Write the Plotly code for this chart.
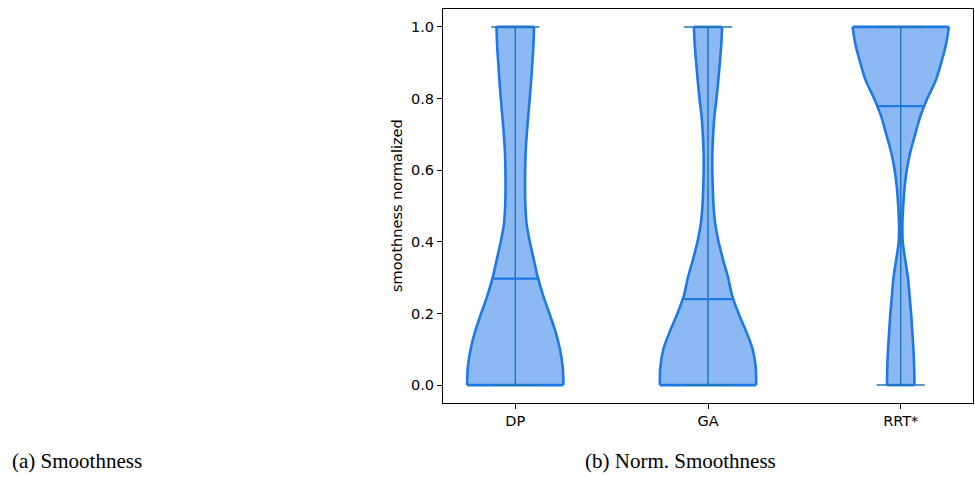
import plotly.graph_objects as go

# ---- data ----
categories = ["DP", "GA", "RRT*"]
levels = [0.00, 0.05, 0.10, 0.15, 0.20, 0.25, 0.30, 0.35, 0.40, 0.45, 0.50,
          0.55, 0.60, 0.65, 0.70, 0.75, 0.80, 0.85, 0.90, 0.95, 1.00]
# relative density (1 = widest point) at each level
density_dp = [1.000, 0.985, 0.927, 0.833, 0.708, 0.579, 0.469, 0.385, 0.302, 0.235, 0.210,
              0.202, 0.205, 0.215, 0.238, 0.268, 0.300, 0.329, 0.354, 0.377, 0.390]
density_ga = [1.000, 0.990, 0.927, 0.792, 0.635, 0.500, 0.417, 0.313, 0.219, 0.150, 0.115,
              0.100, 0.090, 0.092, 0.108, 0.133, 0.177, 0.213, 0.246, 0.275, 0.292]
density_rrt = [0.285, 0.279, 0.263, 0.240, 0.215, 0.183, 0.150, 0.094, 0.042, 0.035, 0.052,
               0.079, 0.125, 0.198, 0.300, 0.406, 0.552, 0.725, 0.840, 0.938, 1.000]
densities = [density_dp, density_ga, density_rrt]
mins = [0.0, 0.0, 0.0]
maxs = [1.0, 1.0, 1.0]
medians = [0.297, 0.240, 0.779]

y_ticks = [0.0, 0.2, 0.4, 0.6, 0.8, 1.0]
y_tick_labels = ["0.0", "0.2", "0.4", "0.6", "0.8", "1.0"]
y_title = "smoothness normalized"
caption_a = "(a) Smoothness"
caption_b = "(b) Norm. Smoothness"

# ---- style ----
FILL = "rgba(26,115,232,0.5)"
EDGE = "#1e78e6"
BAR = "#1f77b4"
HALF_BODY = 0.25   # widths=0.5 -> half width 0.25
HALF_LINE = 0.125  # line ends +/- 0.25*width

fig = go.Figure()
positions = list(range(1, len(categories) + 1))


def add_line(xs, ys, color, width, shape="linear"):
    fig.add_trace(go.Scatter(x=xs, y=ys, mode="lines",
                             line=dict(color=color, width=width, shape=shape, smoothing=0.8),
                             showlegend=False, hoverinfo="skip"))


for pos, dens in zip(positions, densities):
    right = [pos + HALF_BODY * d for d in dens]
    left = [pos - HALF_BODY * d for d in dens]
    # filled body (no outline)
    xs = right + left[::-1] + [right[0]]
    ys = list(levels) + list(levels)[::-1] + [levels[0]]
    fig.add_trace(go.Scatter(x=xs, y=ys, mode="lines", fill="toself", fillcolor=FILL,
                             line=dict(width=0), hoverinfo="skip", showlegend=False))
    # outline: two smooth sides + flat top/bottom
    add_line(right, levels, EDGE, 2.6, "spline")
    add_line(left, levels, EDGE, 2.6, "spline")
    add_line([left[0], right[0]], [levels[0], levels[0]], EDGE, 2.6)
    add_line([left[-1], right[-1]], [levels[-1], levels[-1]], EDGE, 2.6)

for pos, lo, hi, med in zip(positions, mins, maxs, medians):
    add_line([pos, pos], [lo, hi], BAR, 1.5)
    for v in (lo, hi):
        add_line([pos - HALF_LINE, pos + HALF_LINE], [v, v], BAR, 1.5)
    add_line([pos - HALF_LINE, pos + HALF_LINE], [med, med], EDGE, 2.2)

axis_font = dict(family="DejaVu Sans", size=14.5, color="black")
cap_font = dict(family="Liberation Serif", size=21, color="black")

fig.update_layout(
    width=975, height=477,
    margin=dict(l=443, r=2, t=9, b=74),
    paper_bgcolor="white", plot_bgcolor="white",
    showlegend=False,
    xaxis=dict(
        range=[0.625, 3.375], tickmode="array", tickvals=positions, ticktext=categories,
        showgrid=False, zeroline=False, showline=True, mirror=True,
        linecolor="black", linewidth=1, ticks="outside", ticklen=5, tickwidth=1,
        tickcolor="black", tickfont=axis_font,
    ),
    yaxis=dict(
        range=[-0.05, 1.05], tickmode="array", tickvals=y_ticks, ticktext=y_tick_labels,
        showgrid=False, zeroline=False, showline=True, mirror=True,
        linecolor="black", linewidth=1, ticks="outside", ticklen=5, tickwidth=1,
        tickcolor="black", tickfont=axis_font,
    ),
    annotations=[
        dict(text=y_title, xref="paper", yref="paper", x=-46 / 530, y=0.5,
             textangle=-90, showarrow=False, xanchor="center", yanchor="middle",
             font=axis_font),
        dict(text=caption_a, xref="paper", yref="paper", x=(10 - 443) / 530, y=(403 - 461) / 394,
             showarrow=False, xanchor="left", yanchor="middle", font=cap_font),
        dict(text=caption_b, xref="paper", yref="paper", x=(583 - 443) / 530, y=(403 - 461) / 394,
             showarrow=False, xanchor="left", yanchor="middle", font=cap_font),
    ],
)

fig.write_html("out.html", config={"displayModeBar": False},
               post_script="document.body.style.margin='0';")
